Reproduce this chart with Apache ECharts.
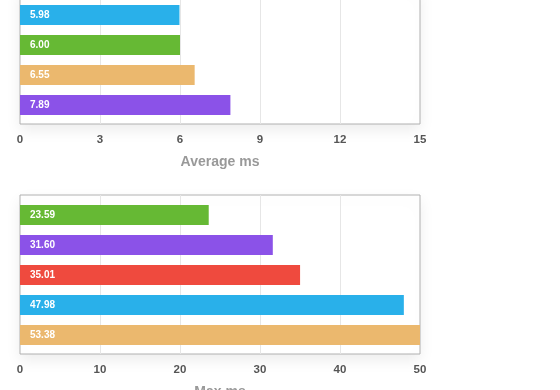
<!DOCTYPE html>
<html><head><meta charset="utf-8">
<script src="https://cdn.jsdelivr.net/npm/echarts@6/dist/echarts.min.js"></script>
<style>html,body{margin:0;padding:0;background:#fff}#c{width:560px;height:390px}</style>
</head><body><div id="c"></div>
<script>
// Top chart: Average ms
const avgCategories = ['A', 'B', 'C', 'D'];
const avgValues = [5.98, 6.00, 6.55, 7.89];
const avgColors = ['#29B0EA', '#66B934', '#EBB86E', '#8B52E8'];
const avgTicks = [0, 3, 6, 9, 12, 15];
// Bottom chart: Max ms
const maxCategories = ['B', 'D', 'E', 'A', 'C'];
const maxValues = [23.59, 31.60, 35.01, 47.98, 53.38];
const maxColors = ['#66B934', '#8B52E8', '#EF4A3E', '#29B0EA', '#EBB86E'];
const maxTicks = [0, 10, 20, 30, 40, 50];

const FONT = 'Liberation Sans, Arial, Helvetica, sans-serif';
const chart = echarts.init(document.getElementById('c'), null, {renderer: 'canvas'});

function frameGrid(top, height) {
  return {left: 20, width: 400, top: top, height: height, show: true,
    borderColor: '#b0b0b0', borderWidth: 1, backgroundColor: '#fff',
    shadowColor: 'rgba(0,0,0,0.08)', shadowBlur: 14, shadowOffsetY: 6,
    containLabel: false, outerBoundsMode: 'none'};
}
function barGrid(top, n) {
  return {left: 20, width: 400, top: top, height: n * 30, show: false,
    containLabel: false, outerBoundsMode: 'none'};
}
function frameX(gi, ticks, name) {
  const step = ticks[1] - ticks[0];
  return {type: 'value', gridIndex: gi, min: ticks[0], max: ticks[ticks.length - 1], interval: step,
    axisLine: {show: false}, axisTick: {show: false},
    axisLabel: {margin: 10, color: '#555', fontSize: 11.5, fontWeight: 'bold', fontFamily: FONT},
    splitLine: {show: true, showMinLine: false, showMaxLine: false, lineStyle: {color: '#e6e6e6', width: 1}},
    name: name, nameLocation: 'middle', nameGap: 31,
    nameTextStyle: {color: '#999', fontSize: 14, fontWeight: 'bold', fontFamily: FONT}};
}
function barX(gi, ticks) {
  return {type: 'value', gridIndex: gi, min: ticks[0], max: ticks[ticks.length - 1], show: false,
    splitLine: {show: false}};
}
function hiddenY(gi, cats) {
  return {type: 'category', gridIndex: gi, data: cats, inverse: true, show: false};
}
function barSeries(xi, yi, vals, colors) {
  return {type: 'bar', xAxisIndex: xi, yAxisIndex: yi, barWidth: 20, clip: true,
    data: vals.map((v, i) => ({value: v, itemStyle: {color: colors[i]}})),
    label: {show: true, position: 'insideLeft', distance: 10, color: '#fff', fontSize: 10,
      fontWeight: 'bold', fontFamily: FONT, formatter: p => p.value.toFixed(2)},
    animation: false, z: 3};
}

chart.setOption({
  animation: false,
  grid: [frameGrid(-12, 136), barGrid(0, avgValues.length), frameGrid(195, 159), barGrid(200, maxValues.length)],
  xAxis: [frameX(0, avgTicks, 'Average ms'), barX(1, avgTicks), frameX(2, maxTicks, 'Max ms'), barX(3, maxTicks)],
  yAxis: [hiddenY(0, avgCategories), hiddenY(1, avgCategories), hiddenY(2, maxCategories), hiddenY(3, maxCategories)],
  series: [barSeries(1, 1, avgValues, avgColors), barSeries(3, 3, maxValues, maxColors)]
});
</script></body></html>
